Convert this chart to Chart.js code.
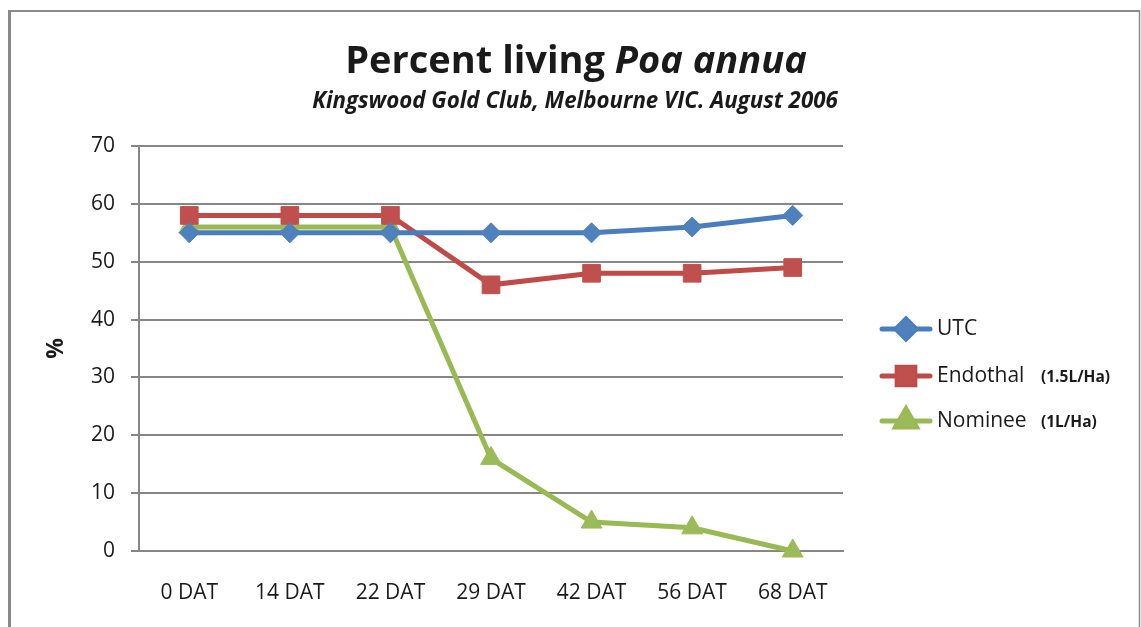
<!DOCTYPE html>
<html>
<head>
<meta charset="utf-8">
<script src="https://cdn.jsdelivr.net/npm/chart.js@4.4.1/dist/chart.umd.min.js"></script>
<style>
  html, body { margin: 0; padding: 0; background: #fff; }
  #wrap { position: relative; width: 1141px; height: 627px; }
  canvas { display: block; }
</style>
</head>
<body>
<div id="wrap"><canvas id="c" width="1141" height="627"></canvas></div>
<script>
// ---- data ----
const categories = ['0 DAT', '14 DAT', '22 DAT', '29 DAT', '42 DAT', '56 DAT', '68 DAT'];
const utcValues = [55, 55, 55, 55, 55, 56, 58];
const endothalValues = [58, 58, 58, 46, 48, 48, 49];
const nomineeValues = [56, 56, 56, 16, 5, 4, 0];
const seriesNames = ['UTC', 'Endothal', 'Nominee'];
const seriesNotes = ['', '(1.5L/Ha)', '(1L/Ha)'];
const yTicks = [0, 10, 20, 30, 40, 50, 60, 70];
const titleMain = 'Percent living ';
const titleItalic = 'Poa annua';
const subtitle = 'Kingswood Gold Club, Melbourne VIC. August 2006';
const yAxisTitle = '%';

const FONT = "'Open Sans', 'Noto Sans', sans-serif";
const TEXT = '#1a1a1a';
const GRID = '#868686';

const frame = {
  id: 'frame',
  beforeDraw(chart) {
    const ctx = chart.ctx;
    ctx.save();
    ctx.fillStyle = '#fff';
    ctx.fillRect(0, 0, chart.width, chart.height);
    ctx.strokeStyle = '#8a8a8a';
    ctx.lineWidth = 3;
    ctx.beginPath(); ctx.moveTo(9.5, 627); ctx.lineTo(9.5, 11); ctx.stroke();
    ctx.lineWidth = 2;
    ctx.beginPath(); ctx.moveTo(8, 11); ctx.lineTo(1140, 11); ctx.stroke();
    ctx.lineWidth = 1.5;
    ctx.beginPath(); ctx.moveTo(1139.5, 10); ctx.lineTo(1139.5, 627); ctx.stroke();
    ctx.restore();
  }
};

const titles = {
  id: 'titles',
  afterDraw(chart) {
    const ctx = chart.ctx;
    ctx.save();
    ctx.fillStyle = TEXT;
    ctx.textBaseline = 'alphabetic';
    ctx.textAlign = 'left';
    const f1 = `bold 38px ${FONT}`, f2 = `italic bold 38px ${FONT}`;
    ctx.font = f1; const w1 = ctx.measureText(titleMain).width;
    ctx.font = f2; const w2 = ctx.measureText(titleItalic).width;
    let x = 576 - (w1 + w2) / 2;
    ctx.font = f1; ctx.fillText(titleMain, x, 73);
    ctx.font = f2; ctx.fillText(titleItalic, x + w1, 73);
    ctx.font = `italic bold 22.3px ${FONT}`;
    ctx.textAlign = 'center';
    ctx.fillText(subtitle, 575, 108);
    ctx.restore();
  }
};

const legendPlugin = {
  id: 'customLegend',
  afterDraw(chart) {
    const ctx = chart.ctx;
    const ys = [329, 376, 421];
    ctx.save();
    chart.data.datasets.forEach((ds, i) => {
      const y = ys[i];
      ctx.strokeStyle = ds.borderColor;
      ctx.lineWidth = ds.borderWidth;
      ctx.lineCap = 'round';
      ctx.beginPath(); ctx.moveTo(882, y); ctx.lineTo(930, y); ctx.stroke();
      Chart.helpers.drawPoint(ctx, {
        pointStyle: ds.pointStyle, radius: ds.pointRadius, rotation: 0, borderWidth: 1
      }, 906, y);
      ctx.fillStyle = ds.pointBackgroundColor;
      ctx.strokeStyle = ds.pointBorderColor;
      ctx.lineWidth = 1;
      ctx.fill(); ctx.stroke();
      ctx.fillStyle = TEXT;
      ctx.textBaseline = 'middle';
      ctx.textAlign = 'left';
      ctx.font = `21px ${FONT}`;
      ctx.fillText(seriesNames[i], 937, y);
      if (seriesNotes[i]) {
        ctx.font = `bold 15.5px ${FONT}`;
        ctx.fillText(seriesNotes[i], 1041, y + 2);
      }
    });
    ctx.restore();
  }
};

new Chart(document.getElementById('c'), {
  type: 'line',
  data: {
    labels: categories,
    datasets: [
      {
        label: seriesNames[0], data: utcValues,
        borderColor: '#4A7EBB', borderWidth: 5,
        pointStyle: 'rectRot', pointRadius: 10,
        pointBackgroundColor: '#4F81BD', pointBorderColor: '#4F81BD', pointBorderWidth: 1,
        tension: 0, clip: false
      },
      {
        label: seriesNames[1], data: endothalValues,
        borderColor: '#BE4B48', borderWidth: 5,
        pointStyle: 'rect', pointRadius: 12.5,
        pointBackgroundColor: '#C0504D', pointBorderColor: '#C0504D', pointBorderWidth: 1,
        tension: 0, clip: false
      },
      {
        label: seriesNames[2], data: nomineeValues,
        borderColor: '#98B954', borderWidth: 5,
        pointStyle: 'triangle', pointRadius: 12,
        pointBackgroundColor: '#9BBB59', pointBorderColor: '#9BBB59', pointBorderWidth: 1,
        tension: 0, clip: false
      }
    ]
  },
  options: {
    responsive: false,
    animation: false,
    devicePixelRatio: 1,
    layout: { padding: { top: 146, right: 298, bottom: 16, left: 0 } },
    plugins: { legend: { display: false }, title: { display: false }, tooltip: { enabled: false } },
    scales: {
      x: {
        type: 'category',
        offset: true,
        grid: { display: false, drawTicks: false },
        border: { display: true, color: GRID, width: 2 },
        ticks: { color: TEXT, font: { family: FONT, size: 21 }, padding: 29, maxRotation: 0, autoSkip: false },
        afterFit: (s) => { s.height = 60; }
      },
      y: {
        min: 0, max: 70,
        afterBuildTicks: (s) => { s.ticks = yTicks.map(v => ({ value: v })); },
        grid: { color: GRID, lineWidth: 2, drawTicks: true, tickLength: 8, tickColor: GRID },
        border: { display: true, color: GRID, width: 2 },
        ticks: { color: TEXT, font: { family: FONT, size: 21 }, padding: 16 },
        title: { display: true, text: yAxisTitle, color: TEXT, font: { family: FONT, size: 23, weight: 'bold' }, padding: { top: 43, bottom: 0 } },
        afterFit: (s) => { s.width = 139; }
      }
    }
  },
  plugins: [frame, titles, legendPlugin]
});
</script>
</body>
</html>
